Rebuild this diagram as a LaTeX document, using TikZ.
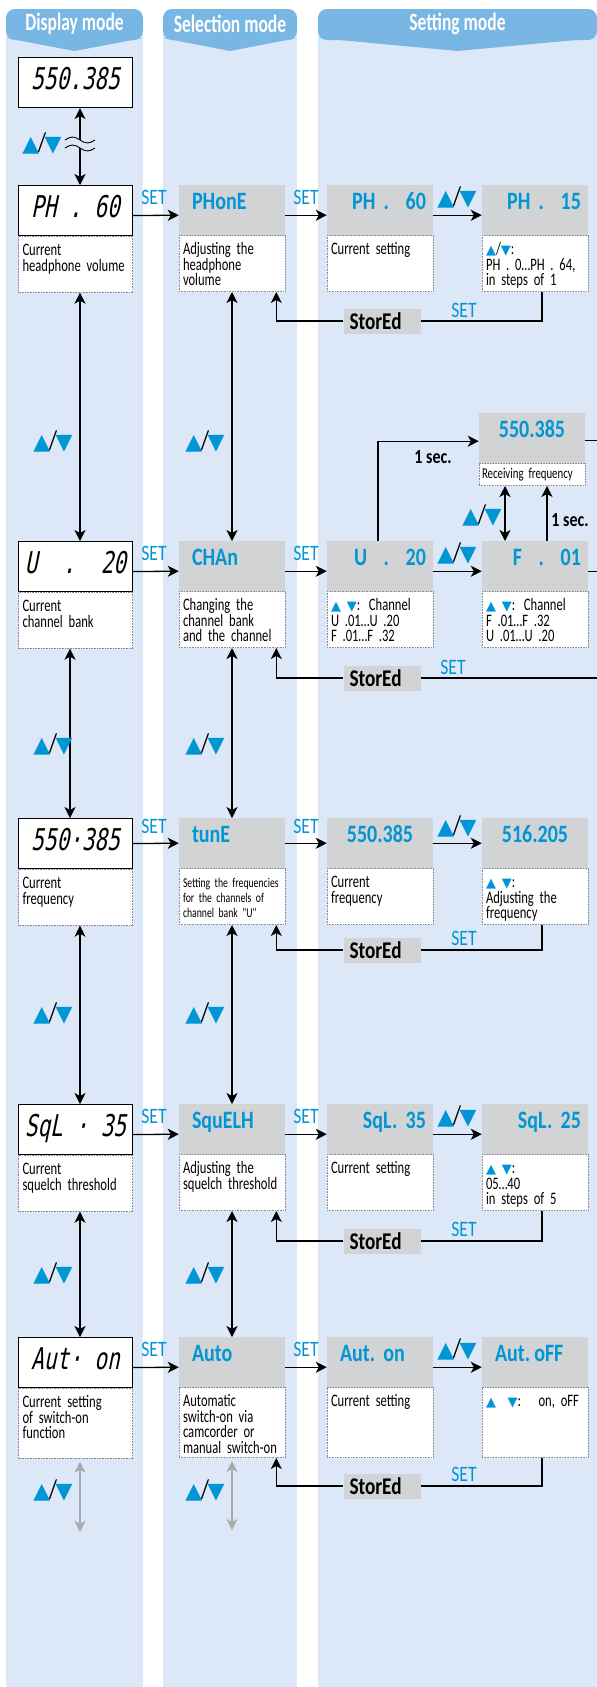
\documentclass[tikz,border=0pt]{standalone}
\usepackage{fontspec}
\setmainfont{Carlito}[FakeStretch=0.8]
\newfontfamily\descfont{Carlito}[FakeStretch=0.72]
\newfontfamily\headfont{Carlito}[FakeStretch=0.7]
\newfontfamily\lcdfont{DejaVu Sans Mono}[FakeStretch=0.7,FakeSlant=0.2]
\newfontfamily\symfont{DejaVu Sans}
\usepackage{tikz}
\usetikzlibrary{arrows.meta,positioning}
\definecolor{keyblue}{RGB}{0,150,214}
\definecolor{headblue}{RGB}{120,182,228}
\definecolor{colbg}{RGB}{220,232,247}
\definecolor{keygray}{RGB}{209,211,212}
\definecolor{dotgray}{RGB}{140,140,140}
\definecolor{arrgray}{RGB}{170,170,170}

\newcommand{\dtxt}[2]{\parbox[c][#1][t]{\hsize}{\raggedright\rule{0pt}{16pt}#2}}
\newcommand{\tup}{{\symfont\fontsize{13}{13}\selectfont\textcolor{keyblue}{▲}}}
\newcommand{\tdn}{{\symfont\fontsize{13}{13}\selectfont\textcolor{keyblue}{▼}}}
\newcommand{\updn}{{\symfont\textcolor{keyblue}{▲}}\kern-1.5pt{\fontsize{27}{27}\selectfont/}\kern-1.5pt{\symfont\textcolor{keyblue}{▼}}}

\tikzset{
  lcdbox/.style={draw, line width=1.1pt, fill=white, minimum width=114pt, minimum height=50pt, inner sep=0pt, anchor=north, text height=32pt, text depth=18pt, font=\lcdfont\fontsize{30}{30}\selectfont},
  graybox/.style={fill=keygray, minimum width=106pt, minimum height=50pt, inner sep=0pt, anchor=north, text height=24pt, text depth=26pt, text=keyblue, font=\bfseries\fontsize{25}{25}\selectfont},
  valL/.style={graybox, text width=80pt, align=left},
  valR/.style={graybox, text width=92pt, align=right},
  valC/.style={graybox, text width=92pt, align=center},
  desc/.style={draw=dotgray, densely dotted, line width=0.6pt, fill=white, inner xsep=4pt, inner ysep=3pt, text width=98pt, font=\descfont\fontsize{17.5}{15.6}\selectfont},
  ddesc/.style={desc, text width=106pt},
  setlbl/.style={text=keyblue, inner sep=0pt, font=\fontsize{22}{22}\selectfont},
  keylbl/.style={inner sep=0pt, font=\fontsize{22}{22}\selectfont},
  seclbl/.style={inner sep=0pt, font=\bfseries\fontsize{20}{20}\selectfont},
  stored/.style={fill=keygray, minimum width=77pt, minimum height=25pt, text width=65pt, inner sep=0pt, font=\bfseries\fontsize{24}{24}\selectfont},
  headtab/.style={fill=headblue},
  headtxt/.style={text=white, inner sep=0pt, font=\headfont\bfseries\fontsize{25}{25}\selectfont},
  wire/.style={line width=1.3pt},
  arr/.style={wire, -{Stealth[length=11pt,width=11pt,inset=3pt]}},
  dblarr/.style={wire, {Stealth[length=11pt,width=11pt,inset=3pt]}-{Stealth[length=11pt,width=11pt,inset=3pt]}},
  grayarr/.style={dblarr, draw=arrgray}
}

\begin{document}
\begin{tikzpicture}[x=1pt, y=-1pt]
        \useasboundingbox (0,0) rectangle (597,1687);
        \clip (0,0) rectangle (597,1687);

        % Columns and headers
        \fill[colbg] (6,30) rectangle (143,1687);
        \fill[colbg] (163,30) rectangle (297,1687);
        \fill[colbg] (318,30) rectangle (620,1687);
        \foreach \xl/\xr/\hd [count=\i] in {6/143/Display mode, 163/297/Selection mode, 318/597/Setting mode} {
            \fill[headtab, rounded corners=9pt] (\xl,9) rectangle (\xr,40);
            \fill[headtab] (\xl,38) -- ({(\xl+\xr)/2},51) -- (\xr,38) -- cycle;
            \node[headtxt] (hd\i) at ({(\xl+\xr)/2},24) {\hd};
        }
        \coordinate (edge) at (597,0);

        % Display mode
        \node[lcdbox] (topfq) at (75.5,57) {550.385};
        \node[lcdbox] (ph) at (75.5,185) {PH~.~60};
        \node[ddesc, below=0pt of ph] (phd) {\dtxt{50pt}{Current\\headphone volume}};
        \node[lcdbox] (u) at (75.5,541) {U~~.~~20};
        \node[ddesc, below=0pt of u] (ud) {\dtxt{50pt}{Current\\channel bank}};
        \node[lcdbox] (fq) at (75.5,818) {550·385};
        \node[ddesc, below=0pt of fq] (fqd) {\dtxt{50pt}{Current\\frequency}};
        \node[lcdbox] (sq) at (75.5,1104) {SqL~·~35};
        \node[ddesc, below=0pt of sq] (sqd) {\dtxt{50pt}{Current\\squelch threshold}};
        \node[lcdbox] (au) at (75.5,1337) {Aut·~on};
        \node[ddesc, below=0pt of au] (aud) {\dtxt{64pt}{Current setting\\of switch-on\\function}};

        % Selection mode
        \node[valL] (phone) at (232,185) {PHonE};
        \node[desc, below=0pt of phone] (phoned) {\dtxt{50pt}{Adjusting the\\headphone\\volume}};
        \node[valL] (chan) at (232,541) {CHAn};
        \node[desc, below=0pt of chan] (chand) {\dtxt{50pt}{Changing the\\channel bank\\and the channel}};
        \node[valL] (tune) at (232,818) {tunE};
        \node[desc, below=0pt of tune, font=\descfont\fontsize{13.5}{15}\selectfont] (tuned) {\dtxt{50pt}{Setting the frequencies\\for the channels of\\channel bank "U"}};
        \node[valL] (squelch) at (232,1104) {SquELH};
        \node[desc, below=0pt of squelch] (squelchd) {\dtxt{50pt}{Adjusting the\\squelch threshold}};
        \node[valL] (autosel) at (232,1337) {Auto};
        \node[desc, below=0pt of autosel] (autoseld) {\dtxt{64pt}{Automatic\\switch-on via\\camcorder or\\manual switch-on}};

        % Setting mode
        \node[valR] (ph60) at (380,185) {PH~.~~60};
        \node[desc, below=0pt of ph60] (ph60d) {\dtxt{50pt}{Current setting}};
        \node[valR] (ph15) at (535,185) {PH~.~~15};
        \node[desc, below=0pt of ph15] (ph15d) {\dtxt{50pt}{\tup/\tdn:\\PH . 0…PH . 64,\\in steps of 1}};

        \node[valR] (u20) at (380,541) {U~~.~~20};
        \node[desc, below=0pt of u20] (u20d) {\dtxt{50pt}{\tup~\tdn: Channel\\U .01…U .20\\F .01…F .32}};
        \node[valR] (f01) at (535,541) {F~~.~~01};
        \node[desc, below=0pt of f01] (f01d) {\dtxt{50pt}{\tup~\tdn: Channel\\F .01…F .32\\U .01…U .20}};
        \node[valC] (rec) at (532,413) {550.385};
        \node[desc, below=0pt of rec, inner xsep=3pt, inner ysep=0pt, text width=100pt, minimum height=22pt, font=\descfont\fontsize{15}{15}\selectfont] (recd) {Receiving frequency};

        \node[valC] (fq1) at (380,818) {550.385};
        \node[desc, below=0pt of fq1] (fq1d) {\dtxt{50pt}{Current\\frequency}};
        \node[valC] (fq2) at (535,818) {516.205};
        \node[desc, below=0pt of fq2] (fq2d) {\dtxt{50pt}{\tup~\tdn:\\Adjusting the\\frequency}};

        \node[valR] (sq35) at (380,1104) {SqL.~35};
        \node[desc, below=0pt of sq35] (sq35d) {\dtxt{50pt}{Current setting}};
        \node[valR] (sq25) at (535,1104) {SqL.~25};
        \node[desc, below=0pt of sq25] (sq25d) {\dtxt{50pt}{\tup~\tdn:\\05…40\\in steps of 5}};

        \node[valL] (aon) at (380,1337) {Aut.~on};
        \node[desc, below=0pt of aon] (aond) {\dtxt{64pt}{Current setting}};
        \node[valL] (aoff) at (535,1337) {Aut.\,oFF};
        \node[desc, below=0pt of aoff] (aoffd) {\dtxt{64pt}{\tup~~\tdn:~~~on, oFF}};

        % StorEd boxes
        \node[stored] (st1) at (382,321) {StorEd};
        \node[stored] (st2) at (382,678) {StorEd};
        \node[stored] (st3) at (382,950) {StorEd};
        \node[stored] (st4) at (382,1241) {StorEd};
        \node[stored] (st5) at (382,1486) {StorEd};

        % Vertical arrows
        \draw[dblarr] ([xshift=4.5pt]topfq.south) -- ([xshift=4.5pt]ph.north);
        \draw[dblarr] ([xshift=4.5pt]phd.south) -- ([xshift=4.5pt]u.north);
        \draw[dblarr] ([xshift=-5.5pt]ud.south) -- ([xshift=-5.5pt]fq.north);
        \draw[dblarr] ([xshift=4.5pt]fqd.south) -- ([xshift=4.5pt]sq.north);
        \draw[dblarr] ([xshift=4.5pt]sqd.south) -- ([xshift=4.5pt]au.north);
        \draw[dblarr] (phoned.south) -- (chan.north);
        \draw[dblarr] (chand.south) -- (tune.north);
        \draw[dblarr] (tuned.south) -- (squelch.north);
        \draw[dblarr] (squelchd.south) -- (autosel.north);
        \coordinate (gd) at (80,1532);
        \coordinate (gs) at (232,1530);
        \draw[grayarr] ([xshift=4.5pt,yshift=-3pt]aud.south) -- (gd);
        \draw[grayarr] ([yshift=-3pt]autoseld.south) -- (gs);

        % Break in the first arrow
        \fill[colbg] (70,140) rectangle (91,148);
        \draw[line width=0.9pt] (65,140) sin (72.5,137) cos (80,140) sin (87.5,143) cos (95,140);
        \draw[line width=0.9pt] (65,148) sin (72.5,145) cos (80,148) sin (87.5,151) cos (95,148);

        % Row arrows
        \draw[arr] ([yshift=-5pt]ph.east) -- ([yshift=-5pt]phone.west);
        \draw[arr] ([yshift=-5pt]phone.east) -- ([yshift=-5pt]ph60.west);
        \draw[arr] ([yshift=-5pt]ph60.east) -- ([yshift=-5pt]ph15.west);
        \draw[arr] ([yshift=-5pt]u.east) -- ([yshift=-5pt]chan.west);
        \draw[arr] ([yshift=-5pt]chan.east) -- ([yshift=-5pt]u20.west);
        \draw[arr] ([yshift=-5pt]u20.east) -- ([yshift=-5pt]f01.west);
        \draw[arr] (fq.east) -- (tune.west);
        \draw[arr] (tune.east) -- (fq1.west);
        \draw[arr] (fq1.east) -- (fq2.west);
        \draw[arr] ([yshift=-5pt]sq.east) -- ([yshift=-5pt]squelch.west);
        \draw[arr] ([yshift=-5pt]squelch.east) -- ([yshift=-5pt]sq35.west);
        \draw[arr] ([yshift=-5pt]sq35.east) -- ([yshift=-5pt]sq25.west);
        \draw[arr] ([yshift=-5pt]au.east) -- ([yshift=-5pt]autosel.west);
        \draw[arr] ([yshift=-5pt]autosel.east) -- ([yshift=-5pt]aon.west);
        \draw[arr] ([yshift=-5pt]aon.east) -- ([yshift=-5pt]aoff.west);

        % Channel loop
        \draw[arr] ([xshift=-2pt]u20.north) |- ([yshift=-3pt]rec.west);
        \draw[dblarr] ([xshift=-27pt]recd.south) -- ([xshift=-27pt]recd.south |- f01.north);
        \draw[arr] ([xshift=12pt]f01.north) -- ([xshift=12pt]f01.north |- recd.south);
        \draw[wire] ([yshift=-2pt]rec.east) -- ([yshift=-2pt]rec.east -| edge);
        \draw[wire] ([yshift=-5pt]f01.east) -- ([yshift=-5pt]f01.east -| edge);

        % Return lines
        \draw[wire] ([xshift=7pt]ph15d.south) |- (st1.east);
        \draw[arr] (st1.west) -| ([xshift=-9pt]phoned.south east);
        \draw[wire] (st2.east -| edge) -- (st2.east);
        \draw[arr] (st2.west) -| ([xshift=-9pt]chand.south east);
        \draw[wire] ([xshift=7pt]fq2d.south) |- (st3.east);
        \draw[arr] (st3.west) -| ([xshift=-9pt]tuned.south east);
        \draw[wire] ([xshift=7pt]sq25d.south) |- (st4.east);
        \draw[arr] (st4.west) -| ([xshift=-9pt]squelchd.south east);
        \draw[wire] ([xshift=7pt]aoffd.south) |- (st5.east);
        \draw[arr] (st5.west) -| ([xshift=-9pt]autoseld.south east);

        % Labels
        \node[keylbl] (k0) at (42,143) {\updn};
        \foreach \y [count=\i] in {441,744,1013,1273,1490} {
            \node[keylbl] (kd\i) at (53,\y) {\updn};
            \node[keylbl] (ks\i) at (205,\y) {\updn};
        }
        \foreach \y [count=\i] in {197,553,826,1116,1349} {
            \node[setlbl] (seta\i) at (154,\y) {SET};
            \node[setlbl] (setb\i) at (306,\y) {SET};
            \node[keylbl] (kr\i) at (457,\y) {\updn};
        }
        \foreach \x/\y [count=\i] in {464/310, 453/667, 464/938, 464/1229, 464/1474} {
            \node[setlbl] (setc\i) at (\x,\y) {SET};
        }
        \node[seclbl] (sec1) at (433,457) {1 sec.};
        \node[seclbl] (sec2) at (570,520) {1 sec.};
        \node[keylbl] (kv) at (482,515) {\updn};
    \end{tikzpicture}
\end{document}
